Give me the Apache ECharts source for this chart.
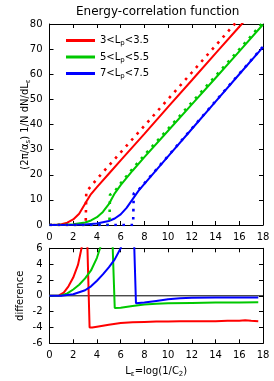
<!DOCTYPE html>
<html><head><meta charset="utf-8">
<script src="https://cdn.jsdelivr.net/npm/echarts@6/dist/echarts.min.js"></script>
<style>html,body{margin:0;padding:0;background:#fff}#c{width:274px;height:381px}</style>
</head><body><div id="c"></div>
<script>
// ---- data ----
const xTicks = [0, 2, 4, 6, 8, 10, 12, 14, 16, 18];
const legendNames = ['3<L_p<3.5', '5<L_p<5.5', '7<L_p<7.5'];

// top panel: full (solid) and approximation (dotted)
const redSolid = [[0,0],[0.5,0.05],[1,0.3],[1.5,0.9],[2,2.2],[2.5,4.5],[3,8.5],[3.5,12.3],[4,15.1],[5,20.4],[6,25.7],[8,36.3],[10,47.0],[12,57.6],[14,68.3],[16,78.9],[16.4,81]];
const redDotted = [[0,0],[3.05,0],[3.1,13.2],[4,18.3],[5,23.6],[6,28.9],[8,39.5],[10,50.1],[12,60.7],[14,71.4],[15.8,81]];
const greenSolid = [[0,0],[1,0.05],[2,0.3],[3,1.0],[3.5,1.8],[4,3.1],[4.5,5.2],[5,8.3],[5.5,12.6],[6,15.9],[7,21.6],[8,27.0],[10,37.5],[12,48.0],[14,58.5],[16,69.1],[18,79.8]];
const greenDotted = [[0,0],[5.05,0],[5.1,12.0],[5.5,13.4],[6,16.6],[7,22.4],[8,27.8],[10,38.3],[12,48.8],[14,59.3],[16,69.9],[18,80.6]];
const blueSolid = [[0,0],[2,0.05],[3,0.2],[4,0.6],[5,1.6],[5.5,2.6],[6,4.2],[6.5,6.8],[7,10.2],[7.5,13.6],[8,16.4],[10,27.3],[12,38.2],[14,49.1],[16,60.0],[18,70.8]];
const blueDotted = [[0,0],[7.05,0],[7.1,12.5],[7.5,13.9],[8,16.6],[10,27.5],[12,38.4],[14,49.3],[16,60.2],[18,71.0]];

// bottom panel: difference
const redDiff = [[0,0],[0.8,0.05],[1.2,0.4],[1.6,1.2],[2,2.3],[2.4,3.9],[2.7,6],[2.9,8],[3.15,8],[3.2,6],[3.38,-4.0],[3.6,-4.0],[4,-3.9],[5,-3.65],[6,-3.45],[7,-3.35],[8,-3.3],[9,-3.25],[10,-3.25],[11,-3.2],[12,-3.2],[13,-3.2],[14,-3.2],[15,-3.15],[16,-3.15],[16.5,-3.1],[17,-3.15],[17.6,-3.2]];
const greenDiff = [[0,0],[1,0.05],[1.5,0.3],[2,0.8],[2.5,1.4],[3,2.2],[3.5,3.2],[4,4.8],[4.26,6],[4.6,8],[5.3,8],[5.33,6],[5.5,-1.55],[6,-1.5],[7,-1.3],[8,-1.1],[9,-1.0],[10,-0.95],[12,-0.9],[14,-0.85],[16,-0.85],[17.6,-0.8]];
const blueDiff = [[0,0],[1,0.02],[2,0.2],[3,0.7],[3.5,1.2],[4,1.9],[4.5,2.7],[5,3.6],[5.5,4.6],[6,6],[6.3,8],[7.12,8],[7.15,6],[7.29,-0.95],[8,-0.85],[9,-0.65],[10,-0.45],[11,-0.32],[12,-0.25],[14,-0.2],[16,-0.2],[17.6,-0.2]];
const zeroLine = [[0,0],[18,0]];

const RED = '#ff0000', GREEN = '#00c800', BLUE = '#0000ff';
const FONT = 'DejaVu Sans';

const chart = echarts.init(document.getElementById('c'), null, {renderer: 'canvas'});

function xAx(grid, pos, labels, extra) {
  return Object.assign({
    type: 'value', gridIndex: grid, position: pos, min: 0, max: 18, interval: 2,
    axisLine: {show: true, onZero: false, lineStyle: {color: '#000', width: 1}},
    axisTick: {show: true, inside: true, length: 4, lineStyle: {color: '#000'}},
    axisLabel: {show: labels, color: '#000', fontSize: 10, fontFamily: FONT, margin: 7},
    splitLine: {show: false}
  }, extra || {});
}
function yAx(grid, pos, labels, min, max, interval, extra) {
  return Object.assign({
    type: 'value', gridIndex: grid, position: pos, min: min, max: max, interval: interval,
    axisLine: {show: true, onZero: false, lineStyle: {color: '#000', width: 1}},
    axisTick: {show: true, inside: true, length: 4, lineStyle: {color: '#000'}},
    axisLabel: {show: labels, color: '#000', fontSize: 10, fontFamily: FONT, margin: 7},
    splitLine: {show: false}
  }, extra || {});
}
const rich = {
  n: {fontSize: 10, fontFamily: FONT, color: '#000', lineHeight: 12},
  s: {fontSize: 7, fontFamily: FONT, color: '#000', lineHeight: 12, padding: [6, 0, 0, 0]}
};
function line(name, data, color, dotted, xi, yi, width) {
  return {
    name: name, type: 'line', data: data, xAxisIndex: xi, yAxisIndex: yi,
    showSymbol: false, symbol: 'none', clip: true, animation: false,
    itemStyle: {color: color},
    lineStyle: dotted ? {color: color, width: 2.6, type: [2.6, 5.5], cap: 'butt'} : {color: color, width: width || 2},
    z: dotted ? 3 : 2
  };
}

chart.setOption({
  animation: false,
  backgroundColor: '#fff',
  title: {text: 'Energy-correlation function', left: 76, top: 6, padding: 0,
    textStyle: {fontSize: 12, fontWeight: 'normal', fontFamily: FONT, color: '#000'}},
  grid: [
    {left: 49.5, right: 11, top: 24, height: 201},
    {left: 49.5, right: 11, top: 248.3, height: 95}
  ],
  legend: {
    data: legendNames, orient: 'vertical', left: 61, top: 29, itemGap: 3.5,
    itemWidth: 29, itemHeight: 3, icon: 'rect',
    textStyle: {rich: rich},
    formatter: function (nm) {
      const p = nm.split('_');
      const a = p[0], rest = p[1];
      return '{n|' + a + '}{s|' + rest.charAt(0) + '}{n|' + rest.slice(1) + '}';
    }
  },
  xAxis: [
    xAx(0, 'bottom', true),
    xAx(0, 'top', false),
    xAx(1, 'top', false),
    xAx(1, 'bottom', true, {margin: 5,
      name: '{n|L}{s|ε}{n|=log(1/C}{s|2}{n|)}', nameLocation: 'middle', nameGap: 22, nameMoveOverlap: false,
      nameTextStyle: {rich: rich}})
  ],
  yAxis: [
    yAx(0, 'left', true, 0, 80, 10, {
      name: '{n|(2π/α}{s|s}{n|) 1/N dN/dL}{s|ε}', nameLocation: 'middle', nameGap: 18, nameRotate: 90, nameMoveOverlap: false,
      nameTextStyle: {rich: rich}}),
    yAx(0, 'right', false, 0, 80, 10),
    yAx(1, 'left', true, -6, 6, 2, {
      name: 'difference', nameLocation: 'middle', nameGap: 24, nameRotate: 90, nameMoveOverlap: false,
      nameTextStyle: {fontSize: 10, fontFamily: FONT, color: '#000'}}),
    yAx(1, 'right', false, -6, 6, 2)
  ],
  series: [
    line(legendNames[0], redSolid, RED, false, 0, 0),
    line(legendNames[1], greenSolid, GREEN, false, 0, 0),
    line(legendNames[2], blueSolid, BLUE, false, 0, 0),
    line('red approx', redDotted, RED, true, 0, 0),
    line('green approx', greenDotted, GREEN, true, 0, 0),
    line('blue approx', blueDotted, BLUE, true, 0, 0),
    line('zero', zeroLine, '#000', false, 3, 2, 1),
    line('red diff', redDiff, RED, false, 3, 2),
    line('green diff', greenDiff, GREEN, false, 3, 2),
    line('blue diff', blueDiff, BLUE, false, 3, 2)
  ]
});
</script></body></html>
